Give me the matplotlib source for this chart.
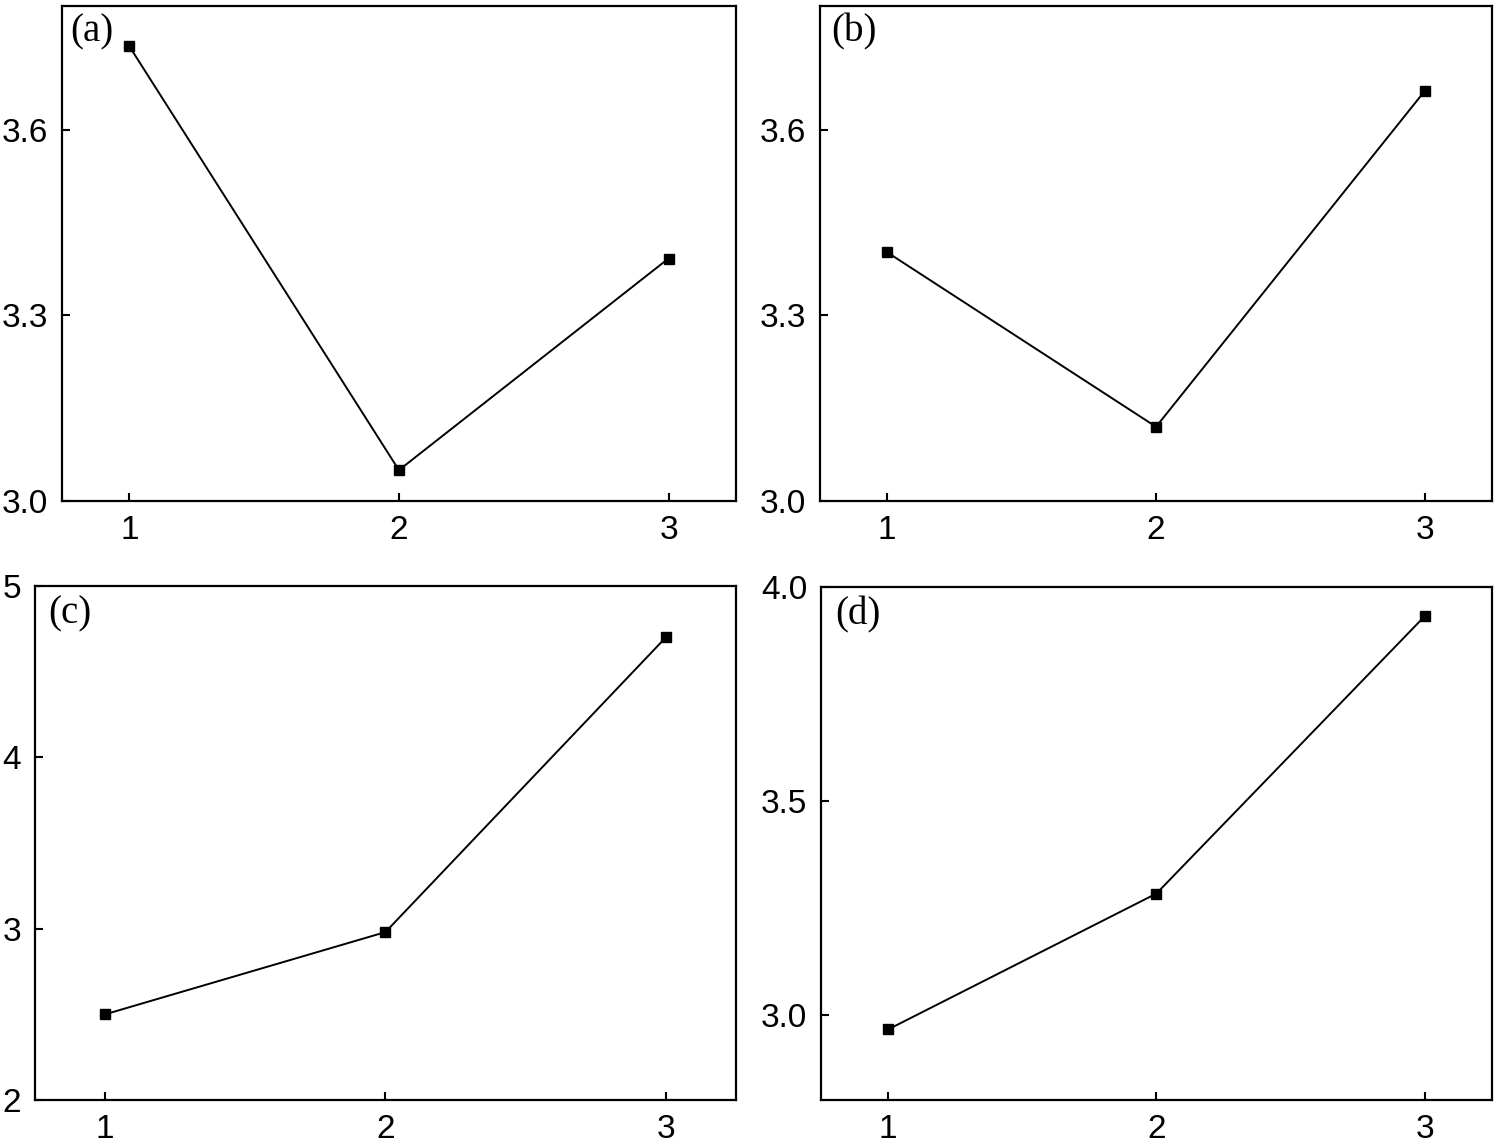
import matplotlib
matplotlib.use("Agg")
import matplotlib.pyplot as plt

levels = [1, 2, 3]
values_a = [3.735, 3.05, 3.392]
values_b = [3.402, 3.12, 3.663]
values_c = [2.50, 2.98, 4.70]
values_d = [2.965, 3.283, 3.932]

panel_labels = ["(a)", "(b)", "(c)", "(d)"]

plt.rcParams["font.family"] = ["Liberation Sans", "DejaVu Sans"]

fig = plt.figure(figsize=(15, 11.45), dpi=100)

rects = [
    [0.0413, 0.5624, 0.4493, 0.4323],
    [0.5467, 0.5624, 0.4480, 0.4323],
    [0.0233, 0.0393, 0.4673, 0.4489],
    [0.5473, 0.0393, 0.4473, 0.4480],
]
series = [values_a, values_b, values_c, values_d]
ylims = [(3.0, 3.8), (3.0, 3.8), (2.0, 5.0), (2.8, 4.0)]
yticks = [[3.0, 3.3, 3.6], [3.0, 3.3, 3.6], [2, 3, 4, 5], [3.0, 3.5, 4.0]]
yfmt = ["%.1f", "%.1f", "%d", "%.1f"]
label_pos = [(0.012, 0.985), (0.016, 0.985), (0.019, 0.982), (0.022, 0.982)]

for rect, vals, ylim, yt, fmt, lab, lpos in zip(rects, series, ylims, yticks, yfmt, panel_labels, label_pos):
    ax = fig.add_axes(rect)
    ax.plot(levels, vals, color="black", linewidth=1.4, marker="s",
            markersize=7.5, markerfacecolor="black", markeredgecolor="black")
    ax.set_xlim(0.75, 3.25)
    ax.set_ylim(*ylim)
    ax.set_xticks(levels)
    ax.set_xticklabels([str(v) for v in levels])
    ax.set_yticks(yt)
    ax.set_yticklabels([fmt % v for v in yt])
    ax.tick_params(direction="in", length=6, width=1.5, labelsize=24, pad=10)
    for spine in ax.spines.values():
        spine.set_linewidth(1.6)
    ax.text(lpos[0], lpos[1], lab, transform=ax.transAxes, ha="left", va="top",
            fontsize=28, family=["Liberation Serif", "DejaVu Serif"])

fig.savefig("out.png", dpi=100)
